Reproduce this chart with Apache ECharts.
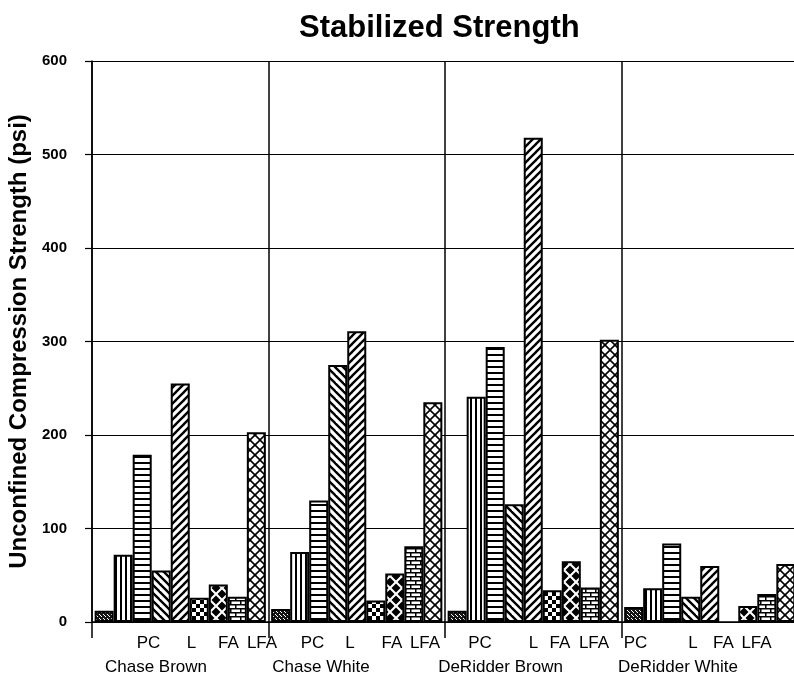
<!DOCTYPE html>
<html>
<head>
<meta charset="utf-8">
<script src="https://cdn.jsdelivr.net/npm/echarts@6/dist/echarts.min.js"></script>
<style>
html,body{margin:0;padding:0;background:#fff;}
#chart{width:794px;height:679px;}
</style>
</head>
<body>
<div id="chart"></div>
<script>
// ---- data ----
var categories = ['Chase Brown', 'Chase White', 'DeRidder Brown', 'DeRidder White'];
var subLabels = ['PC', 'L', 'FA', 'LFA'];
var yTicks = [0, 100, 200, 300, 400, 500, 600];
var untreated = [12, 14, 12, 16];
var pcLow     = [72, 75, 241, 36];
var pcHigh    = [179, 130, 294, 84];
var lLow      = [55, 275, 126, 27];
var lHigh     = [255, 311, 518, 60];
var faLow     = [26, 23, 34, null];
var faHigh    = [40, 52, 65, 17];
var lfaLow    = [27, 81, 37, 30];
var lfaHigh   = [203, 235, 302, 62];
var seriesNames = ['Untreated', 'PC (low)', 'PC (high)', 'L (low)', 'L (high)', 'FA (low)', 'FA (high)', 'LFA (low)', 'LFA (high)'];

// ---- layout ----
var FONT = '"Liberation Sans", Arial, Helvetica, sans-serif';
var GRID_LEFT = 92, GRID_TOP = 61, GRID_W = 706, GRID_H = 561;
var CAT_W = GRID_W / categories.length;
// label centres (pixels) as placed in the original figure
var rowCenters = [[148.5, 191.5, 228.5, 262], [312.5, 350, 392, 425], [480, 533.5, 560, 594], [635.5, 693, 723.5, 756.5]];
var nameCenters = [156, 321, 500.5, 678];
var subW = [26, 12, 24, 32];
var NAME_W = 140, BLOCK_W = 260;

function tile(w, h, draw, bg) {
  var c = document.createElement('canvas');
  c.width = w; c.height = h;
  var ctx = c.getContext('2d');
  ctx.fillStyle = bg || '#fff';
  ctx.fillRect(0, 0, w, h);
  ctx.fillStyle = '#000';
  ctx.strokeStyle = '#000';
  draw(ctx, w, h);
  return { image: c, repeat: 'repeat' };
}

var patterns = [
  tile(4, 4, function (ctx) {
    ctx.fillStyle = '#fff';
    ctx.fillRect(1, 0, 1, 1);
    ctx.fillRect(3, 2, 1, 1);
    ctx.fillRect(0, 3, 1, 1);
  }, '#151515'),
  tile(5, 5, function (ctx) { ctx.fillRect(0, 0, 2, 5); }),
  tile(5, 6, function (ctx) { ctx.fillRect(0, 0, 5, 2); }),
  tile(8, 8, function (ctx) {
    ctx.lineWidth = 2.4;
    [-8, 0, 8].forEach(function (k) {
      ctx.beginPath(); ctx.moveTo(k - 1, -1); ctx.lineTo(k + 9, 9); ctx.stroke();
    });
  }),
  tile(8, 8, function (ctx) {
    ctx.lineWidth = 2.4;
    [-8, 0, 8].forEach(function (k) {
      ctx.beginPath(); ctx.moveTo(k - 1, 9); ctx.lineTo(k + 9, -1); ctx.stroke();
    });
  }),
  tile(8, 8, function (ctx) {
    ctx.fillRect(0, 0, 4, 4);
    ctx.fillRect(4, 4, 4, 4);
  }),
  tile(12, 12, function (ctx) {
    var r = 4.5;
    [[6, 6], [0, 0], [12, 0], [0, 12], [12, 12]].forEach(function (p) {
      ctx.beginPath();
      ctx.moveTo(p[0], p[1] - r); ctx.lineTo(p[0] + r, p[1]);
      ctx.lineTo(p[0], p[1] + r); ctx.lineTo(p[0] - r, p[1]);
      ctx.closePath(); ctx.fill();
    });
  }),
  tile(10, 8, function (ctx) {
    ctx.fillRect(0, 0, 10, 1.5);
    ctx.fillRect(0, 4, 10, 1.5);
    ctx.fillRect(0, 0, 1.5, 4);
    ctx.fillRect(5, 4, 1.5, 4);
  }),
  tile(10, 10, function (ctx) {
    ctx.lineWidth = 1.6;
    [-10, 0, 10].forEach(function (k) {
      ctx.beginPath(); ctx.moveTo(k - 1, 11); ctx.lineTo(k + 11, -1); ctx.stroke();
    });
    ctx.beginPath(); ctx.moveTo(0, 0); ctx.lineTo(10, 10); ctx.stroke();
  })
];

var seriesData = [untreated, pcLow, pcHigh, lLow, lHigh, faLow, faHigh, lfaLow, lfaHigh];

var txt = { fontSize: 17, lineHeight: 24, color: '#000', fontFamily: FONT };
function rs(w) { return Object.assign({ width: Math.max(w, 0.5) }, txt); }

// rich styles: spacer tokens so each label sits where the original has it
var rich = {};
subLabels.forEach(function (s, k) { rich['t' + k] = rs(subW[k]); });
rich.nm = rs(NAME_W);
categories.forEach(function (c, i) {
  var center = GRID_LEFT + CAT_W * (i + 0.5);
  var left = center - BLOCK_W / 2;
  var x = left;
  for (var k = 0; k < 4; k++) {
    var l = rowCenters[i][k] - subW[k] / 2;
    rich['a' + i + '_' + k] = rs(l - x);
    x = l + subW[k];
  }
  rich['a' + i + '_4'] = rs(left + BLOCK_W - x);
  var nl = nameCenters[i] - NAME_W / 2;
  rich['b' + i + '_0'] = rs(nl - left);
  rich['b' + i + '_1'] = rs(left + BLOCK_W - nl - NAME_W);
});

var chart = echarts.init(document.getElementById('chart'), null, { renderer: 'canvas' });
var option = {
  animation: false,
  backgroundColor: '#fff',
  title: {
    text: 'Stabilized Strength',
    left: 294,
    top: 8,
    textStyle: { fontSize: 31, fontWeight: 'bold', color: '#000', fontFamily: FONT }
  },
  grid: { left: GRID_LEFT, top: GRID_TOP, width: GRID_W, height: GRID_H, containLabel: false, outerBoundsMode: 'none' },
  xAxis: {
    type: 'category',
    data: categories,
    boundaryGap: true,
    axisLine: { lineStyle: { color: '#000', width: 1.5 } },
    axisTick: { show: true, interval: 0, length: 16, lineStyle: { color: '#000', width: 1.5 } },
    splitLine: { show: true, interval: 0, lineStyle: { color: '#000', width: 1.5 } },
    axisLabel: {
      interval: 0,
      hideOverlap: false,
      margin: 9,
      formatter: function (value) {
        var i = categories.indexOf(value);
        var s = '';
        for (var k = 0; k < 4; k++) s += '{a' + i + '_' + k + '| }{t' + k + '|' + subLabels[k] + '}';
        s += '{a' + i + '_4| }\n{b' + i + '_0| }{nm|' + value + '}{b' + i + '_1| }';
        return s;
      },
      rich: rich
    }
  },
  yAxis: {
    type: 'value',
    min: yTicks[0],
    max: yTicks[yTicks.length - 1],
    interval: 100,
    name: 'Unconfined Compression Strength (psi)',
    nameLocation: 'middle',
    nameGap: 59,
    nameTextStyle: { fontSize: 24, fontWeight: 'bold', color: '#000', fontFamily: FONT },
    axisLine: { show: true, lineStyle: { color: '#000', width: 1.5 } },
    axisTick: { show: true, length: 7, lineStyle: { color: '#000', width: 1.2 } },
    splitLine: { show: true, lineStyle: { color: '#000', width: 1.2 } },
    axisLabel: { margin: 25, fontSize: 15, fontWeight: 'bold', color: '#000', fontFamily: FONT }
  },
  series: seriesData.map(function (d, i) {
    return {
      name: seriesNames[i],
      type: 'bar',
      data: d,
      barGap: '0%',
      barCategoryGap: '3%',
      itemStyle: { color: patterns[i], borderColor: '#000', borderWidth: 2 }
    };
  })
};
chart.setOption(option);
</script>
</body>
</html>
